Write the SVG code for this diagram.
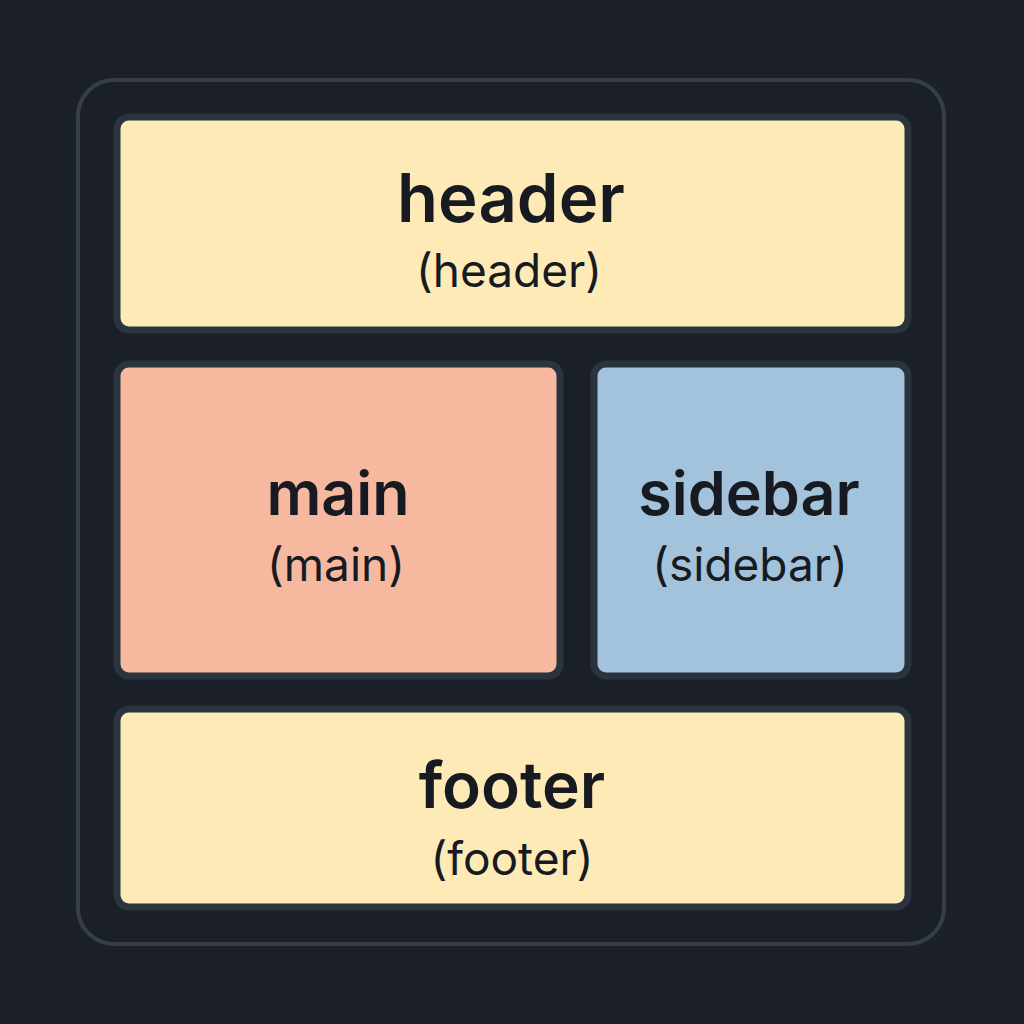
<svg xmlns="http://www.w3.org/2000/svg" width="1024" height="1024" viewBox="0 0 1024 1024">
<style>
.cell{stroke:#29343f;stroke-width:7}
.title{font-family:Inter,"Liberation Sans",sans-serif;font-weight:600;font-size:61px;fill:#171b21;text-anchor:middle}
.sub{font-family:Inter,"Liberation Sans",sans-serif;font-weight:400;font-size:46px;fill:#171b21;text-anchor:middle}
</style>
<rect width="1024" height="1024" fill="#1c2029"/>
<rect id="frame" x="78" y="80" width="866" height="864" rx="36" fill="#1b1f27" stroke="#353f4a" stroke-width="4"/>
<g id="header">
<rect class="cell" x="117" y="117" width="791" height="213" rx="12" fill="#feeab7"/>
<text class="title" x="511" y="222" style="font-size:67px">header</text>
<text class="sub" x="509" y="287">(header)</text>
</g>
<g id="main">
<rect class="cell" x="117" y="364" width="443" height="312" rx="12" fill="#f6b9a0"/>
<text class="title" x="338" y="515">main</text>
<text class="sub" x="336" y="581">(main)</text>
</g>
<g id="sidebar">
<rect class="cell" x="594" y="364" width="314" height="312" rx="12" fill="#a3c3dd"/>
<text class="title" x="749" y="515">sidebar</text>
<text class="sub" x="750" y="581">(sidebar)</text>
</g>
<g id="footer">
<rect class="cell" x="117" y="709" width="791" height="198" rx="12" fill="#feeab7"/>
<text class="title" x="512" y="808" style="font-size:64px">footer</text>
<text class="sub" x="512" y="875">(footer)</text>
</g>
<g id="connectors"/>
</svg>
